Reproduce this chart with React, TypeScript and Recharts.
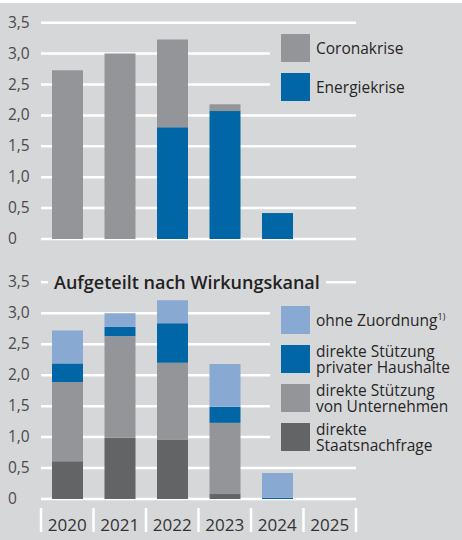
import { BarChart, Bar, XAxis, YAxis, CartesianGrid } from "recharts";

const years = ["2020", "2021", "2022", "2023", "2024", "2025"];

// obere Grafik (Mrd.)
const corona = [2.73, 3.0, 1.42, 0.11, 0, 0];
const energie = [0, 0, 1.81, 2.07, 0.42, 0];

// untere Grafik, nach Wirkungskanal
const staatsnachfrage = [0.61, 0.99, 0.96, 0.08, 0, 0];
const unternehmen = [1.28, 1.64, 1.24, 1.15, 0, 0];
const haushalte = [0.3, 0.15, 0.64, 0.26, 0.02, 0];
const ohneZuordnung = [0.53, 0.22, 0.37, 0.69, 0.4, 0];

const yTicks = [0, 0.5, 1, 1.5, 2, 2.5, 3, 3.5];

const BG = "#d6d7d9";
const GRAY = "#939598";
const BLUE = "#0066a6";
const LIGHT = "#88a9d1";
const DARK = "#636466";
const FONT = "'Open Sans', 'Noto Sans', sans-serif";
const BAND = 52.5;

const topData = years.map((year, i) => ({
  year,
  corona: corona[i],
  energie: energie[i],
}));

const bottomData = years.map((year, i) => ({
  year,
  staat: staatsnachfrage[i],
  unternehmen: unternehmen[i],
  haushalte: haushalte[i],
  ohne: ohneZuordnung[i],
}));

const fmt = (v: number) => (v === 0 ? "0" : v.toFixed(1).replace(".", ","));

const YTick = (props: any) => {
  const { y, payload } = props;
  return (
    <text x={8} y={y} dy={5} textAnchor="start" fill="#4a4a4a" fontSize={15.5} fontFamily={FONT}>
      {fmt(payload.value)}
    </text>
  );
};

const XTick = (props: any) => {
  const { x, y, payload, index } = props;
  return (
    <g>
      <line x1={x - BAND / 2} x2={x - BAND / 2} y1={y + 9} y2={y + 33} stroke="#fff" strokeWidth={2.5} />
      {index === years.length - 1 && (
        <line x1={x + BAND / 2} x2={x + BAND / 2} y1={y + 9} y2={y + 33} stroke="#fff" strokeWidth={2.5} />
      )}
      <text x={x} y={y + 32} textAnchor="middle" fill="#333" fontSize={17} fontFamily={FONT}>
        {payload.value}
      </text>
    </g>
  );
};

const swatch = (color: string) => (
  <span style={{ display: "inline-block", width: 29, height: 28, background: color, flex: "none" }} />
);

const topItems = [
  { color: GRAY, lines: ["Coronakrise"] },
  { color: BLUE, lines: ["Energiekrise"] },
];

const bottomItems = [
  { color: LIGHT, lines: ["ohne Zuordnung"], sup: "1)" },
  { color: BLUE, lines: ["direkte Stützung", "privater Haushalte"] },
  { color: GRAY, lines: ["direkte Stützung", "von Unternehmen"] },
  { color: DARK, lines: ["direkte", "Staatsnachfrage"] },
];

const LegendBox = ({ items, left, top, gap }: { items: any[]; left: number; top: number; gap: number }) => (
  <div
    style={{
      position: "absolute",
      left,
      top,
      width: 462 - left,
      background: BG,
      padding: "6px 0 6px 11px",
      boxSizing: "border-box",
      fontFamily: FONT,
      fontSize: 15.5,
      color: "#262626",
      lineHeight: "16.5px",
    }}
  >
    {items.map((item, k) => (
      <div
        key={k}
        style={{ display: "flex", alignItems: "center", gap: 6, height: 28, marginTop: k === 0 ? 0 : gap }}
      >
        {swatch(item.color)}
        <div style={{ whiteSpace: "nowrap" }}>
          {item.lines.map((l: string, i: number) => (
            <div key={i}>
              {l}
              {item.sup && <sup style={{ fontSize: 9, lineHeight: 0 }}>{item.sup}</sup>}
            </div>
          ))}
        </div>
      </div>
    ))}
  </div>
);

export default function App() {
  return (
    <div style={{ position: "relative", width: 462, height: 540, background: BG, overflow: "hidden" }}>
      <style>{"body{margin:0}"}</style>
      <div style={{ position: "absolute", left: 0, top: 0, width: 462, height: 3, background: "#fff" }} />

      <div style={{ position: "absolute", left: 0, top: 0 }}>
        <BarChart width={462} height={250} data={topData} margin={{ top: 22.7, right: 106, bottom: 11, left: 0 }}>
          <CartesianGrid vertical={false} stroke="#fff" strokeWidth={2.5} />
          <XAxis dataKey="year" hide />
          <YAxis width={41} domain={[0, 3.5]} ticks={yTicks} axisLine={false} tickLine={false} tick={<YTick />} />
          <Bar dataKey="energie" stackId="a" fill={BLUE} barSize={31} isAnimationActive={false} />
          <Bar dataKey="corona" stackId="a" fill={GRAY} barSize={31} isAnimationActive={false} />
        </BarChart>
      </div>

      <div style={{ position: "absolute", left: 0, top: 250 }}>
        <BarChart width={462} height={285} data={bottomData} margin={{ top: 32.3, right: 106, bottom: 0, left: 0 }}>
          <CartesianGrid vertical={false} stroke="#fff" strokeWidth={2.5} />
          <XAxis
            dataKey="year"
            height={36}
            axisLine={false}
            tickLine={false}
            tickSize={0}
            tickMargin={0}
            interval={0}
            tick={<XTick />}
          />
          <YAxis width={41} domain={[0, 3.5]} ticks={yTicks} axisLine={false} tickLine={false} tick={<YTick />} />
          <Bar dataKey="staat" stackId="b" fill={DARK} barSize={31} isAnimationActive={false} />
          <Bar dataKey="unternehmen" stackId="b" fill={GRAY} barSize={31} isAnimationActive={false} />
          <Bar dataKey="haushalte" stackId="b" fill={BLUE} barSize={31} isAnimationActive={false} />
          <Bar dataKey="ohne" stackId="b" fill={LIGHT} barSize={31} isAnimationActive={false} />
        </BarChart>
      </div>

      <LegendBox items={topItems} left={270} top={28} gap={11} />
      <LegendBox items={bottomItems} left={270} top={300} gap={11} />

      <div
        style={{
          position: "absolute",
          left: 48,
          top: 270,
          padding: "0 6px",
          background: BG,
          fontFamily: FONT,
          fontSize: 18,
          fontWeight: 600,
          color: "#222",
          lineHeight: "24px",
          whiteSpace: "nowrap",
        }}
      >
        Aufgeteilt nach Wirkungskanal
      </div>
    </div>
  );
}
